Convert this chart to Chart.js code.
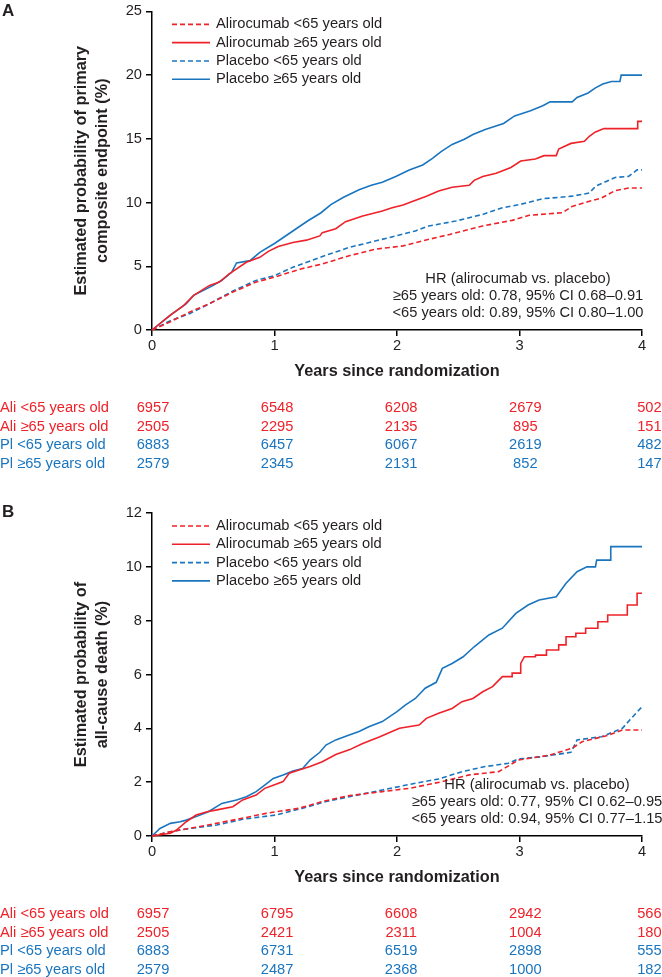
<!DOCTYPE html>
<html>
<head>
<meta charset="utf-8">
<script src="https://cdn.jsdelivr.net/npm/chart.js@4.4.1/dist/chart.umd.min.js"></script>
<style>
  body { margin: 0; background: #fff; }
  canvas { display: block; }
</style>
</head>
<body>
<canvas id="chartA" width="662" height="488"></canvas>
<canvas id="chartB" width="662" height="489"></canvas>
<script>
var RED = '#ee2229', BLUE = '#1a75bf', INK = '#231f20';
var FONT = '"Liberation Sans", Arial, sans-serif';

var seriesNames = ['Alirocumab <65 years old', 'Alirocumab ≥65 years old', 'Placebo <65 years old', 'Placebo ≥65 years old'];
var riskLabels = ['Ali <65 years old', 'Ali ≥65 years old', 'Pl <65 years old', 'Pl ≥65 years old'];
var riskYears = [0, 1, 2, 3, 4];

// panel A: primary composite endpoint, points are [years, %]
var aAliYoung = [[0,0],[0.15,0.65],[0.31,1.42],[0.47,2.07],[0.66,2.98],[0.85,3.76],[1.00,4.15],[1.22,4.8],[1.39,5.18],[1.61,5.83],[1.83,6.35],[2.05,6.6],[2.21,7.0],[2.43,7.5],[2.70,8.16],[2.94,8.6],[3.08,9.0],[3.35,9.2],[3.43,9.7],[3.57,10.1],[3.67,10.36],[3.78,10.93],[3.89,11.14],[4.0,11.14]];
var aAliOld = [[0,0],[0.15,1.17],[0.26,1.94],[0.34,2.72],[0.47,3.5],[0.55,3.76],[0.63,4.4],[0.77,5.31],[0.88,5.7],[0.95,6.17],[1.03,6.55],[1.15,6.87],[1.26,7.05],[1.37,7.38],[1.39,7.64],[1.50,7.95],[1.58,8.5],[1.72,8.94],[1.88,9.33],[1.96,9.59],[2.05,9.8],[2.13,10.1],[2.24,10.5],[2.34,10.9],[2.45,11.2],[2.59,11.35],[2.63,11.74],[2.70,12.05],[2.81,12.3],[2.93,12.75],[3.01,13.26],[3.13,13.42],[3.20,13.68],[3.30,13.68],[3.32,14.2],[3.42,14.64],[3.53,14.8],[3.57,15.2],[3.62,15.54],[3.69,15.8],[3.96,15.8],[3.965,16.37],[4.0,16.37]];
var aPlaYoung = [[0,0],[0.15,0.73],[0.31,1.3],[0.47,2.07],[0.66,3.06],[0.85,3.89],[1.00,4.27],[1.15,4.92],[1.37,5.7],[1.61,6.48],[1.83,7.0],[1.99,7.38],[2.15,7.77],[2.26,8.16],[2.48,8.55],[2.70,9.07],[2.86,9.59],[3.00,9.84],[3.19,10.3],[3.43,10.5],[3.57,10.75],[3.62,11.27],[3.78,11.97],[3.89,12.05],[3.96,12.56],[4.0,12.56]];
var aPlaOld = [[0,0],[0.15,1.17],[0.28,2.07],[0.34,2.72],[0.50,3.5],[0.57,3.9],[0.65,4.53],[0.69,5.26],[0.80,5.44],[0.88,6.09],[1.00,6.79],[1.15,7.77],[1.27,8.55],[1.38,9.2],[1.46,9.84],[1.56,10.4],[1.69,11.0],[1.79,11.35],[1.88,11.6],[1.99,12.05],[2.10,12.56],[2.21,12.95],[2.29,13.47],[2.36,14.0],[2.45,14.56],[2.55,14.97],[2.62,15.34],[2.72,15.73],[2.87,16.2],[2.96,16.8],[3.09,17.2],[3.19,17.6],[3.25,17.9],[3.43,17.9],[3.47,18.25],[3.56,18.6],[3.62,19.0],[3.68,19.3],[3.75,19.5],[3.82,19.5],[3.83,20.0],[4.0,20.0]];

// panel B: all-cause death
var bAliYoung = [[0,0],[0.15,0.16],[0.39,0.35],[0.66,0.59],[0.93,0.84],[1.20,1.03],[1.39,1.28],[1.61,1.5],[1.88,1.65],[2.10,1.77],[2.37,2.02],[2.59,2.27],[2.83,2.39],[2.99,2.82],[3.24,3.0],[3.43,3.26],[3.51,3.5],[3.73,3.75],[3.84,3.94],[4.0,3.94]];
var bAliOld = [[0,0],[0.15,0.1],[0.2,0.22],[0.28,0.53],[0.36,0.78],[0.45,0.9],[0.53,0.97],[0.66,1.09],[0.74,1.34],[0.85,1.52],[0.92,1.77],[0.99,1.89],[1.07,2.02],[1.12,2.33],[1.20,2.45],[1.29,2.58],[1.39,2.76],[1.50,3.03],[1.61,3.2],[1.72,3.44],[1.86,3.69],[2.02,4.0],[2.18,4.12],[2.24,4.37],[2.34,4.56],[2.45,4.74],[2.53,4.99],[2.62,5.11],[2.70,5.36],[2.78,5.55],[2.86,5.92],[2.94,5.92],[2.94,6.05],[3.01,6.05],[3.01,6.41],[3.04,6.66],[3.13,6.66],[3.13,6.72],[3.22,6.72],[3.22,6.91],[3.32,6.91],[3.32,7.1],[3.38,7.1],[3.38,7.4],[3.46,7.4],[3.46,7.53],[3.54,7.53],[3.54,7.72],[3.64,7.72],[3.64,7.96],[3.72,7.96],[3.72,8.21],[3.88,8.21],[3.88,8.58],[3.96,8.58],[3.96,9.02],[4.0,9.02]];
var bPlaYoung = [[0,0],[0.15,0.16],[0.31,0.28],[0.53,0.41],[0.74,0.62],[1.01,0.78],[1.23,1.03],[1.42,1.28],[1.61,1.46],[1.88,1.71],[2.15,1.96],[2.34,2.12],[2.53,2.39],[2.72,2.58],[2.91,2.7],[2.99,2.86],[3.19,2.95],[3.42,3.11],[3.47,3.57],[3.67,3.69],[3.84,4.0],[3.90,4.31],[4.0,4.8]];
var bPlaOld = [[0,0],[0.065,0.28],[0.15,0.47],[0.23,0.53],[0.28,0.59],[0.36,0.72],[0.46,0.9],[0.57,1.21],[0.69,1.34],[0.77,1.46],[0.85,1.65],[0.92,1.89],[0.99,2.14],[1.07,2.27],[1.15,2.41],[1.23,2.51],[1.29,2.82],[1.37,3.11],[1.42,3.38],[1.50,3.57],[1.61,3.75],[1.69,3.88],[1.77,4.06],[1.88,4.25],[2.0,4.62],[2.07,4.87],[2.15,5.11],[2.23,5.49],[2.32,5.71],[2.37,6.23],[2.45,6.41],[2.54,6.66],[2.63,7.03],[2.75,7.47],[2.86,7.72],[2.97,8.27],[3.07,8.58],[3.16,8.77],[3.30,8.89],[3.38,9.39],[3.47,9.82],[3.55,10.0],[3.62,10.0],[3.63,10.25],[3.74,10.25],[3.745,10.75],[4.0,10.75]];

// numbers at risk
var riskA = [[6957,6548,6208,2679,502],[2505,2295,2135,895,151],[6883,6457,6067,2619,482],[2579,2345,2131,852,147]];
var riskB = [[6957,6795,6608,2942,566],[2505,2421,2311,1004,180],[6883,6731,6519,2898,555],[2579,2487,2368,1000,182]];

var extras = {
  id: 'extras',
  afterDraw: function (chart, args, o) {
    var ctx = chart.ctx, a = chart.chartArea, xs = chart.scales.x;
    ctx.save();
    ctx.fillStyle = INK;

    ctx.font = 'bold 17px ' + FONT;
    ctx.textAlign = 'left';
    ctx.textBaseline = 'alphabetic';
    ctx.fillText(o.letter, 2, o.letterY);

    // legend
    ctx.font = '14.7px ' + FONT;
    ctx.textBaseline = 'middle';
    chart.data.datasets.forEach(function (ds, i) {
      var ly = a.top + 13 + i * 18.3;
      ctx.strokeStyle = ds.borderColor;
      ctx.lineWidth = ds.borderWidth;
      ctx.setLineDash(ds.borderDash || []);
      ctx.beginPath();
      ctx.moveTo(a.left + 20, ly);
      ctx.lineTo(a.left + 58, ly);
      ctx.stroke();
      ctx.setLineDash([]);
      ctx.fillText(ds.label, a.left + 64, ly);
    });

    // HR box
    ctx.textAlign = 'center';
    o.hr.forEach(function (t, i) {
      ctx.fillText(t, o.hrX, a.bottom - 51 + i * 17);
    });

    // axis titles
    ctx.font = 'bold 16.3px ' + FONT;
    ctx.fillText('Years since randomization', (a.left + a.right) / 2, a.bottom + 42);
    ctx.save();
    ctx.translate(0, (a.top + a.bottom) / 2);
    ctx.rotate(-Math.PI / 2);
    ctx.fillText(o.yTitle[0], 0, 82);
    ctx.fillText(o.yTitle[1], 0, 103);
    ctx.restore();

    // numbers at risk
    ctx.font = '14.7px ' + FONT;
    o.risk.forEach(function (row, r) {
      var ry = a.bottom + 78 + r * 18.6;
      ctx.fillStyle = r < 2 ? RED : BLUE;
      ctx.textAlign = 'left';
      ctx.fillText(riskLabels[r], 0, ry);
      ctx.textAlign = 'center';
      row.forEach(function (n, c) {
        ctx.fillText(String(n), xs.getPixelForValue(riskYears[c]) + 1 + c * 1.6, ry);
      });
    });
    ctx.restore();
  }
};

function toXY(pts) {
  return pts.map(function (p) { return { x: p[0], y: p[1] }; });
}

function makePanel(id, p) {
  var canvas = document.getElementById(id);
  var H = canvas.height;
  var sets = [p.aliYoung, p.aliOld, p.plaYoung, p.plaOld];
  var datasets = sets.map(function (pts, i) {
    return {
      label: seriesNames[i],
      data: toXY(pts),
      borderColor: i < 2 ? RED : BLUE,
      borderWidth: 1.6,
      borderDash: i % 2 === 0 ? [5, 3] : [],
      pointRadius: 0,
      fill: false,
      tension: 0,
      clip: 3
    };
  });
  var tickFont = { family: FONT, size: 14.7, lineHeight: 1 };
  return new Chart(canvas, {
    type: 'line',
    data: { datasets: datasets },
    plugins: [extras],
    options: {
      responsive: false,
      animation: false,
      layout: { padding: { top: p.top, right: 20, left: 0, bottom: 0 } },
      plugins: {
        legend: { display: false },
        tooltip: { enabled: false },
        extras: {
          letter: p.letter, letterY: p.letterY,
          yTitle: p.yTitle, hr: p.hr, hrX: p.hrX, risk: p.risk
        }
      },
      scales: {
        x: {
          type: 'linear', min: 0, max: 4,
          afterFit: function (s) { s.height = H - p.bottom; },
          ticks: { stepSize: 1, color: INK, font: tickFont, padding: 3 },
          grid: { drawOnChartArea: false, color: '#000', lineWidth: 1.5, tickLength: 6 },
          border: { color: '#000', width: 1.5 }
        },
        y: {
          min: 0, max: p.yMax,
          afterFit: function (s) { s.width = 152; },
          ticks: { stepSize: p.yStep, color: INK, font: tickFont, padding: 4 },
          grid: { drawOnChartArea: false, color: '#000', lineWidth: 1.5, tickLength: 6 },
          border: { color: '#000', width: 1.5 }
        }
      }
    }
  });
}

makePanel('chartA', {
  aliYoung: aAliYoung, aliOld: aAliOld, plaYoung: aPlaYoung, plaOld: aPlaOld,
  top: 8, bottom: 330, yMax: 25, yStep: 5,
  letter: 'A', letterY: 16,
  yTitle: ['Estimated probability of primary', 'composite endpoint (%)'],
  hr: ['HR (alirocumab vs. placebo)', '≥65 years old: 0.78, 95% CI 0.68–0.91', '<65 years old: 0.89, 95% CI 0.80–1.00'],
  hrX: 518, risk: riskA
});

makePanel('chartB', {
  aliYoung: bAliYoung, aliOld: bAliOld, plaYoung: bPlaYoung, plaOld: bPlaOld,
  top: 25, bottom: 348, yMax: 12, yStep: 2,
  letter: 'B', letterY: 29,
  yTitle: ['Estimated probability of', 'all-cause death (%)'],
  hr: ['HR (alirocumab vs. placebo)', '≥65 years old: 0.77, 95% CI 0.62–0.95', '<65 years old: 0.94, 95% CI 0.77–1.15'],
  hrX: 537, risk: riskB
});
</script>
</body>
</html>
